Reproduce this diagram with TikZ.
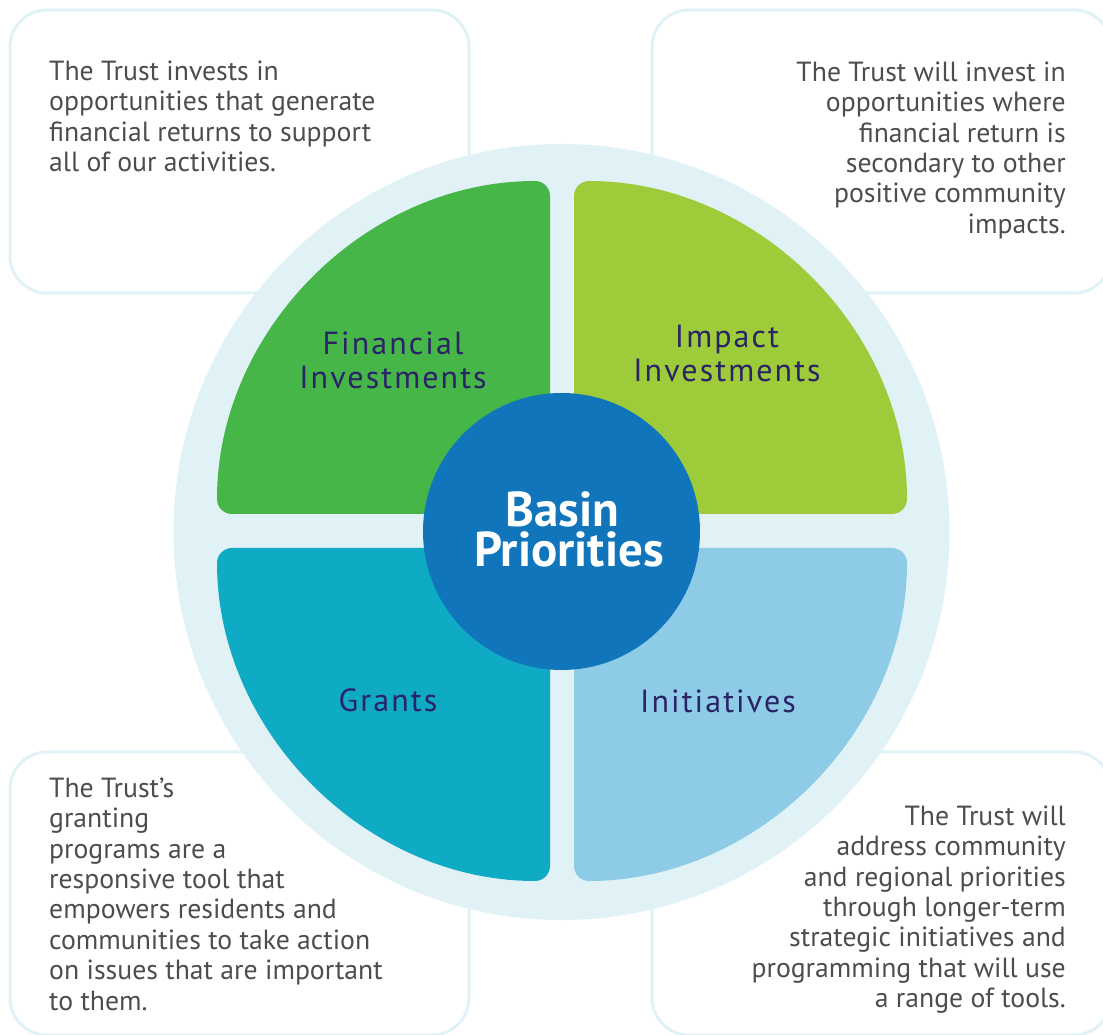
\documentclass[tikz,border=0pt]{standalone}
\usepackage{fontspec}
\setmainfont{PT Sans}
\newfontfamily\bodyfont{PT Sans}
\newfontfamily\labelfont{PT Sans}[LetterSpace=6.5]
\newfontfamily\titlefont{PT Sans}
\definecolor{ring}{HTML}{E0F2F6}
\definecolor{qgreen}{HTML}{46B649}
\definecolor{qlime}{HTML}{9ECB3A}
\definecolor{qteal}{HTML}{0FAAC4}
\definecolor{qlblue}{HTML}{8ECBE6}
\definecolor{hub}{HTML}{1175BB}
\definecolor{navy}{HTML}{2A2366}
\definecolor{bodygrey}{HTML}{4D4D4D}
\tikzset{
  x=1pt, y=1pt,
  infobox/.style={draw=ring, line width=3pt, rounded corners=37pt},
  quad/.style={rounded corners=15pt},
  bodytext/.style={inner sep=0pt, text=bodygrey, font=\bodyfont\fontsize{27.7}{30.4}\selectfont},
  quadlabel/.style={inner sep=0pt, text=navy, align=center, font=\labelfont\fontsize{32}{33.5}\selectfont},
  titletext/.style={inner sep=0pt, text=white, anchor=base, font=\titlefont\bfseries\fontsize{49}{40}\selectfont},
}
\begin{document}
\begin{tikzpicture}
\useasboundingbox (0,0) rectangle (1103,1034);
\clip (0,0) rectangle (1103,1034);
% text boxes
\draw[infobox] (10,1024) rectangle (469,741);
\draw[infobox] (652,1024) rectangle (1111,741);
\draw[infobox] (10,282) rectangle (469,-1);
\draw[infobox] (652,282) rectangle (1111,-1);
% ring
\fill[ring] (561.5,502) circle[radius=388];
% quadrants
\fill[qgreen, quad] (550,520) -- (217,520) arc[start angle=180, end angle=90, radius=333] -- cycle;
\fill[qlime, quad] (574,520) -- (574,853) arc[start angle=90, end angle=0, radius=333] -- cycle;
\fill[qteal, quad] (550,486) -- (550,153) arc[start angle=270, end angle=180, radius=333] -- cycle;
\fill[qlblue, quad] (574,486) -- (907,486) arc[start angle=0, end angle=-90, radius=333] -- cycle;
% hub
\node[circle, fill=hub, minimum size=277pt, inner sep=0pt] (hub) at (561.5,502.5) {};
\node[titletext] (title1) at (562,507) {Basin};
\node[titletext] (title2) at (569,467) {Priorities};
% quadrant labels
\node[quadlabel, anchor=north] (fin) at (393,702) {Financial\\Investments};
\node[quadlabel, anchor=north] (imp) at (727,709) {Impact\\Investments};
\node[quadlabel, anchor=base] (gra) at (388,322) {Grants};
\node[quadlabel, anchor=base] (ini) at (718,321) {Initiatives};
% body texts
\node[bodytext, anchor=north west, align=left] (tfin) at (49,973.5)
  {The Trust invests in\\opportunities that generate\\financial returns to support\\all of our activities.};
\node[bodytext, anchor=north east, align=right] (timp) at (1066,972.5)
  {The Trust will invest in\\opportunities where\\financial return is\\secondary to other\\positive community\\impacts.};
\node[bodytext, anchor=north west, align=left] (tgra) at (49,256.5)
  {The Trust’s\\granting\\programs are a\\responsive tool that\\empowers residents and\\communities to take action\\on issues that are important\\to them.};
\node[bodytext, anchor=north east, align=right] (tini) at (1066,228.5)
  {The Trust will\\address community\\and regional priorities\\through longer-term\\strategic initiatives and\\programming that will use\\a range of tools.};
\end{tikzpicture}
\end{document}
